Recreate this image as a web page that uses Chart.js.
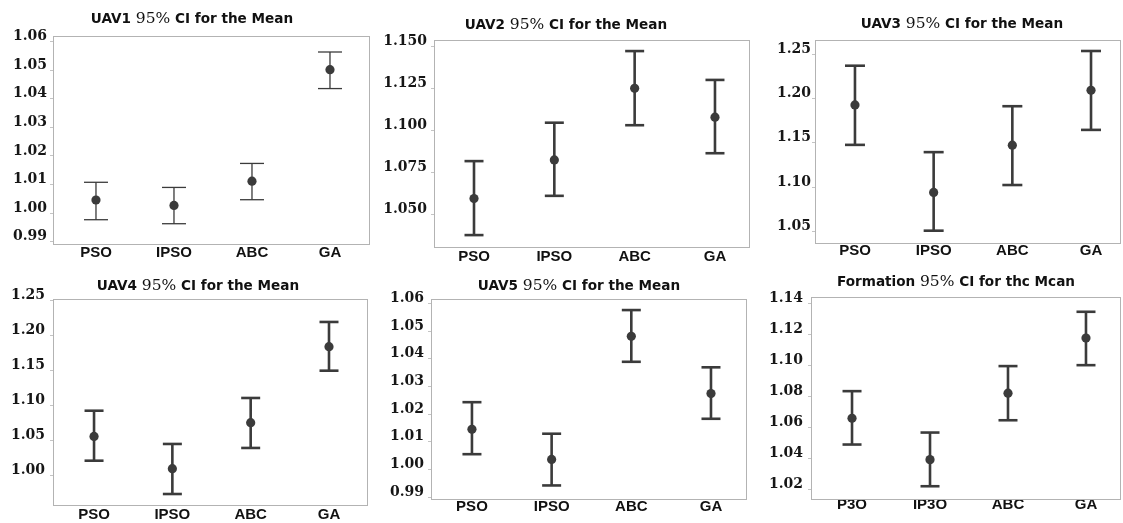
<!DOCTYPE html>
<html>
<head>
<meta charset="utf-8">
<title>95% CI for the Mean</title>
<script src="https://cdn.jsdelivr.net/npm/chart.js@4.4.1/dist/chart.umd.min.js"></script>
<style>
  body { margin: 0; background: #fff; }
  #page { position: relative; width: 1123px; height: 523px; overflow: hidden; background: #fff; }
  #page canvas { position: absolute; }
</style>
</head>
<body>
<div id="page"></div>
<script>
// categories //
const methods = ['PSO', 'IPSO', 'ABC', 'GA'];
const methodsScan = ['P3O', 'IP3O', 'ABC', 'GA']; // as printed under the Formation panel

// UAV1 //
const uav1Mean = [1.0046, 1.0027, 1.0112, 1.0502];
const uav1Low  = [0.9977, 0.9963, 1.0047, 1.0436];
const uav1High = [1.0108, 1.0090, 1.0174, 1.0564];
const uav1Ticks = [0.99, 1.00, 1.01, 1.02, 1.03, 1.04, 1.05, 1.06];

// UAV2 //
const uav2Mean = [1.0594, 1.0824, 1.1251, 1.1079];
const uav2Low  = [1.0376, 1.0610, 1.1031, 1.0864];
const uav2High = [1.0817, 1.1046, 1.1473, 1.1301];
const uav2Ticks = [1.050, 1.075, 1.100, 1.125, 1.150];

// UAV3 //
const uav3Mean = [1.1927, 1.0939, 1.1473, 1.2092];
const uav3Low  = [1.1476, 1.0508, 1.1023, 1.1645];
const uav3High = [1.2369, 1.1394, 1.1912, 1.2535];
const uav3Ticks = [1.05, 1.10, 1.15, 1.20, 1.25];

// UAV4 //
const uav4Mean = [1.0554, 1.0093, 1.0750, 1.1836];
const uav4Low  = [1.0207, 0.9731, 1.0389, 1.1493];
const uav4High = [1.0921, 1.0446, 1.1103, 1.2189];
const uav4Ticks = [1.00, 1.05, 1.10, 1.15, 1.20, 1.25];

// UAV5 //
const uav5Mean = [1.0145, 1.0036, 1.0481, 1.0274];
const uav5Low  = [1.0055, 0.9942, 1.0389, 1.0183];
const uav5High = [1.0243, 1.0129, 1.0576, 1.0369];
const uav5Ticks = [0.99, 1.00, 1.01, 1.02, 1.03, 1.04, 1.05, 1.06];

// Formation //
const formMean = [1.0660, 1.0394, 1.0821, 1.1175];
const formLow  = [1.0491, 1.0223, 1.0647, 1.1001];
const formHigh = [1.0834, 1.0568, 1.0995, 1.1344];
const formTicks = [1.02, 1.04, 1.06, 1.08, 1.10, 1.12, 1.14];

const ink = '#3b3b3b';

// panel layout: rect = canvas [x, y, w, h], area = plot box [l, t, r, b] in page pixels
const panels = [
    { title: ['UAV1 ', '95%', ' CI for the Mean'], labels: methods, mean: uav1Mean, low: uav1Low, high: uav1High,
      ticks: uav1Ticks, dec: 2, yRange: [0.9892, 1.0620], xRange: [-0.551, 3.513],
      rect: [0, 0, 374, 262], area: [53, 36, 370, 244], titleAt: [192, 19], xPad: 1.8, yPad: 3, lw: 1.3, cap: 12 },
    { title: ['UAV2 ', '95%', ' CI for the Mean'], labels: methods, mean: uav2Mean, low: uav2Low, high: uav2High,
      ticks: uav2Ticks, dec: 3, yRange: [1.0305, 1.1539], xRange: [-0.498, 3.436],
      rect: [374, 0, 378, 262], area: [434, 40, 750, 247], titleAt: [566, 25], xPad: 2.2, yPad: 4, lw: 2.6, cap: 9.5 },
    { title: ['UAV3 ', '95%', ' CI for the Mean'], labels: methods, mean: uav3Mean, low: uav3Low, high: uav3High,
      ticks: uav3Ticks, dec: 2, yRange: [1.0369, 1.2659], xRange: [-0.508, 3.381],
      rect: [752, 0, 371, 262], area: [815, 40, 1121, 243], titleAt: [962, 24], xPad: 0.3, yPad: 1, lw: 2.6, cap: 10 },
    { title: ['UAV4 ', '95%', ' CI for the Mean'], labels: methods, mean: uav4Mean, low: uav4Low, high: uav4High,
      ticks: uav4Ticks, dec: 2, yRange: [0.9574, 1.2517], xRange: [-0.524, 3.498],
      rect: [0, 262, 374, 261], area: [53, 299, 368, 505], titleAt: [198, 286], xPad: 2, yPad: 5, lw: 2.6, cap: 9.5 },
    { title: ['UAV5 ', '95%', ' CI for the Mean'], labels: methods, mean: uav5Mean, low: uav5Low, high: uav5High,
      ticks: uav5Ticks, dec: 2, yRange: [0.9893, 1.0616], xRange: [-0.514, 3.452],
      rect: [374, 262, 376, 261], area: [431, 299, 747, 499], titleAt: [579, 286], xPad: 0.5, yPad: 4, lw: 2.6, cap: 9.5 },
    { title: ['Formation ', '95%', ' CI for thc Mcan'], labels: methodsScan, mean: formMean, low: formLow, high: formHigh,
      ticks: formTicks, dec: 2, yRange: [1.0141, 1.1439], xRange: [-0.526, 3.449],
      rect: [752, 262, 371, 261], area: [811, 297, 1121, 499], titleAt: [956, 282], xPad: -1.5, yPad: 5, lw: 2.6, cap: 9.5 }
];

// grey box round the plot area //
const framePlugin = {
    id: 'frame',
    beforeDatasetsDraw(chart) {
        const a = chart.chartArea;
        const ctx = chart.ctx;
        ctx.save();
        ctx.strokeStyle = '#b3b3b3';
        ctx.lineWidth = 1;
        const l = Math.round(a.left) + 0.5, t = Math.round(a.top) + 0.5;
        ctx.strokeRect(l, t, Math.round(a.right) - Math.round(a.left) - 1, Math.round(a.bottom) - Math.round(a.top));
        ctx.restore();
    }
};

// title with the serif "95%" in the middle, like the original //
const titlePlugin = {
    id: 'panelTitle',
    afterDraw(chart, args, opts) {
        const ctx = chart.ctx;
        const fonts = ['bold 13.6px "DejaVu Sans"', '15.5px "DejaVu Serif"', 'bold 13.6px "DejaVu Sans"'];
        ctx.save();
        ctx.fillStyle = '#111';
        ctx.textBaseline = 'middle';
        ctx.textAlign = 'left';
        let total = 0;
        const widths = opts.parts.map((s, i) => {
            ctx.font = fonts[i];
            const w = ctx.measureText(s).width;
            total += w;
            return w;
        });
        let x = opts.x - total / 2;
        opts.parts.forEach((s, i) => {
            ctx.font = fonts[i];
            ctx.fillText(s, x, opts.y);
            x += widths[i];
        });
        ctx.restore();
    }
};

function makePanel(p) {
    const [rx, ry, rw, rh] = p.rect;
    const [al, at, ar, ab] = p.area;
    const cv = document.createElement('canvas');
    cv.width = rw;
    cv.height = rh;
    cv.style.left = rx + 'px';
    cv.style.top = ry + 'px';
    document.getElementById('page').appendChild(cv);

    const whisker = [], caps = [], means = [];
    p.mean.forEach((m, i) => {
        whisker.push({ x: i, y: p.low[i] }, { x: i, y: p.high[i] }, { x: i, y: null });
        caps.push({ x: i, y: p.low[i] }, { x: i, y: p.high[i] });
        means.push({ x: i, y: m });
    });

    new Chart(cv, {
        type: 'scatter',
        data: {
            datasets: [
                { data: means, pointRadius: 4.6, pointBackgroundColor: ink, pointBorderWidth: 0 },
                { data: caps, pointStyle: 'line', pointRadius: p.cap, pointBorderColor: ink, pointBorderWidth: p.lw },
                { type: 'line', data: whisker, showLine: true, spanGaps: false, pointRadius: 0,
                  borderColor: ink, borderWidth: p.lw, fill: false }
            ]
        },
        options: {
            responsive: false,
            animation: false,
            events: [],
            layout: { autoPadding: false, padding: { left: 0, top: at - ry, right: rx + rw - ar, bottom: 0 } },
            plugins: {
                legend: { display: false },
                tooltip: { enabled: false },
                panelTitle: { parts: p.title, x: p.titleAt[0] - rx, y: p.titleAt[1] - ry }
            },
            scales: {
                x: {
                    type: 'linear',
                    min: p.xRange[0],
                    max: p.xRange[1],
                    grid: { display: false, drawTicks: false },
                    border: { display: false },
                    afterBuildTicks: (axis) => { axis.ticks = p.labels.map((_, i) => ({ value: i })); },
                    afterFit: (axis) => { axis.height = ry + rh - ab; },
                    ticks: {
                        autoSkip: false,
                        maxRotation: 0,
                        padding: p.xPad,
                        color: '#111',
                        font: { family: 'Liberation Sans', weight: 'bold', size: 15, lineHeight: 1 },
                        callback: (v) => p.labels[v]
                    }
                },
                y: {
                    min: p.yRange[0],
                    max: p.yRange[1],
                    grid: { drawOnChartArea: false, drawTicks: true, tickLength: 3, color: '#c4c4c4' },
                    border: { display: false },
                    afterBuildTicks: (axis) => { axis.ticks = p.ticks.map((v) => ({ value: v })); },
                    afterFit: (axis) => { axis.width = al - rx; },
                    ticks: {
                        autoSkip: false,
                        padding: p.yPad,
                        labelOffset: -5,
                        color: '#161616',
                        font: { family: 'DejaVu Serif', weight: 'bold', size: 14 },
                        callback: (v) => v.toFixed(p.dec)
                    }
                }
            }
        },
        plugins: [framePlugin, titlePlugin]
    });
}

panels.forEach(makePanel);
</script>
</body>
</html>
